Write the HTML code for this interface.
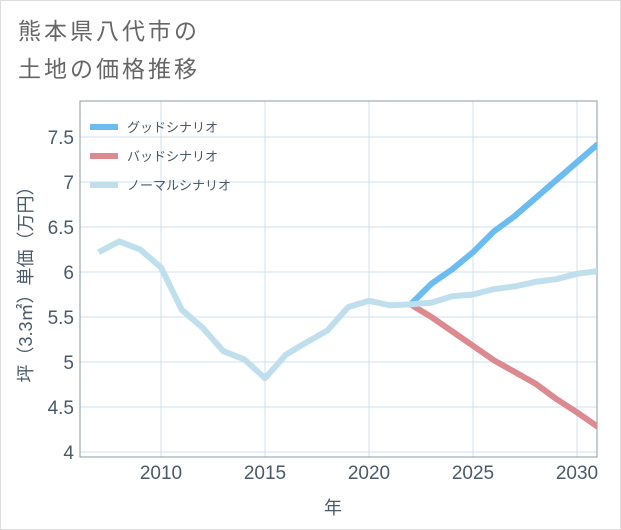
<!DOCTYPE html>
<html><head><meta charset="utf-8"><style>
body{margin:0;background:#fff;}
#wrap{position:relative;width:619px;height:528px;border:1px solid #ddd;background:#fff;font-family:"Liberation Sans","Noto Sans CJK JP",sans-serif;}
.t{position:absolute;left:17px;font-size:23px;color:#666;letter-spacing:3px;line-height:1;}
</style></head><body>
<div id="wrap">
<div class="t" style="top:19px">熊本県八代市の</div>
<div class="t" style="top:57px">土地の価格推移</div>
<svg id="c" width="621" height="530" style="position:absolute;left:-1px;top:-1px"></svg>
</div>
<script>
const years=[2007,2008,2009,2010,2011,2012,2013,2014,2015,2016,2017,2018,2019,2020,2021,2022,2023,2024,2025,2026,2027,2028,2029,2030,2031];
const normal=[6.22,6.34,6.25,6.05,5.58,5.38,5.12,5.03,4.82,5.08,5.22,5.35,5.61,5.68,5.63,5.64,5.66,5.73,5.75,5.81,5.84,5.89,5.92,5.98,6.01];
const futureYears=[2022,2023,2024,2025,2026,2027,2028,2029,2030,2031];
const good=[5.64,5.87,6.03,6.22,6.45,6.62,6.82,7.02,7.22,7.42];
const bad=[5.64,5.50,5.34,5.18,5.02,4.89,4.76,4.59,4.44,4.28];
const yTicks=[4,4.5,5,5.5,6,6.5,7,7.5];
const yTickLabels=["4","4.5","5","5.5","6","6.5","7","7.5"];
const xTicks=[2010,2015,2020,2025,2030];
const NS="http://www.w3.org/2000/svg";
const L=80,R=597,T=101,B=457;
const x=v=>161+(v-2010)*20.8;
const y=v=>452-(v-4)*90;
const svg=document.getElementById('c');
function mk(t,a,p){const e=document.createElementNS(NS,t);for(const k in a)e.setAttribute(k,a[k]);(p||svg).appendChild(e);return e;}
const defs=mk('defs',{});const cp=mk('clipPath',{id:'clip'},defs);mk('rect',{x:L,y:T,width:R-L,height:B-T},cp);
for(let i=0;i<yTicks.length;i++){const g=mk('line',{x1:L,x2:R,y1:y(yTicks[i]),y2:y(yTicks[i]),stroke:'#cfe0ec','stroke-width':1});

const tx=mk('text',{x:L-6,y:y(yTicks[i])+7,'text-anchor':'end','font-size':19,fill:'#4a5a6a'});tx.textContent=yTickLabels[i];
}
for(const v of xTicks){const g=mk('line',{x1:x(v),x2:x(v),y1:T,y2:B,stroke:'#cfe0ec','stroke-width':1});

const tx=mk('text',{x:x(v),y:B+22,'text-anchor':'middle','font-size':19,fill:'#4a5a6a'});tx.textContent=v;
}
const fr=mk('rect',{x:L,y:T,width:R-L,height:B-T,fill:'none',stroke:'#8898a8','stroke-width':1});

function line(xs,vs,col,name){const p=mk('polyline',{points:xs.map((a,i)=>x(a)+','+y(vs[i])).join(' '),fill:'none',stroke:col,'stroke-width':6,'stroke-linejoin':'round','clip-path':'url(#clip)'});
}
line(futureYears,good,'#6bbcf0','good-scenario-line');
line(futureYears,bad,'#dc8990','bad-scenario-line');
line(years,normal,'#c0dfec','normal-scenario-line');
const leg=[['グッドシナリオ','#6bbcf0'],['バッドシナリオ','#dc8990'],['ノーマルシナリオ','#c0dfec']];
leg.forEach((e,i)=>{const yy=127+i*29;
const s=mk('line',{x1:90,x2:118,y1:yy,y2:yy,stroke:e[1],'stroke-width':6});

const t=mk('text',{x:127,y:yy+5,'font-size':13,fill:'#4a5a6a'});t.textContent=e[0];
});
const yt=mk('text',{transform:'translate(32,280) rotate(-90)','text-anchor':'middle','font-size':18,fill:'#4a5a6a'});yt.textContent='坪（3.3㎡）単価（万円）';

const xt=mk('text',{x:333,y:514,'text-anchor':'middle','font-size':18,fill:'#4a5a6a'});xt.textContent='年';

</script>
</body></html>
